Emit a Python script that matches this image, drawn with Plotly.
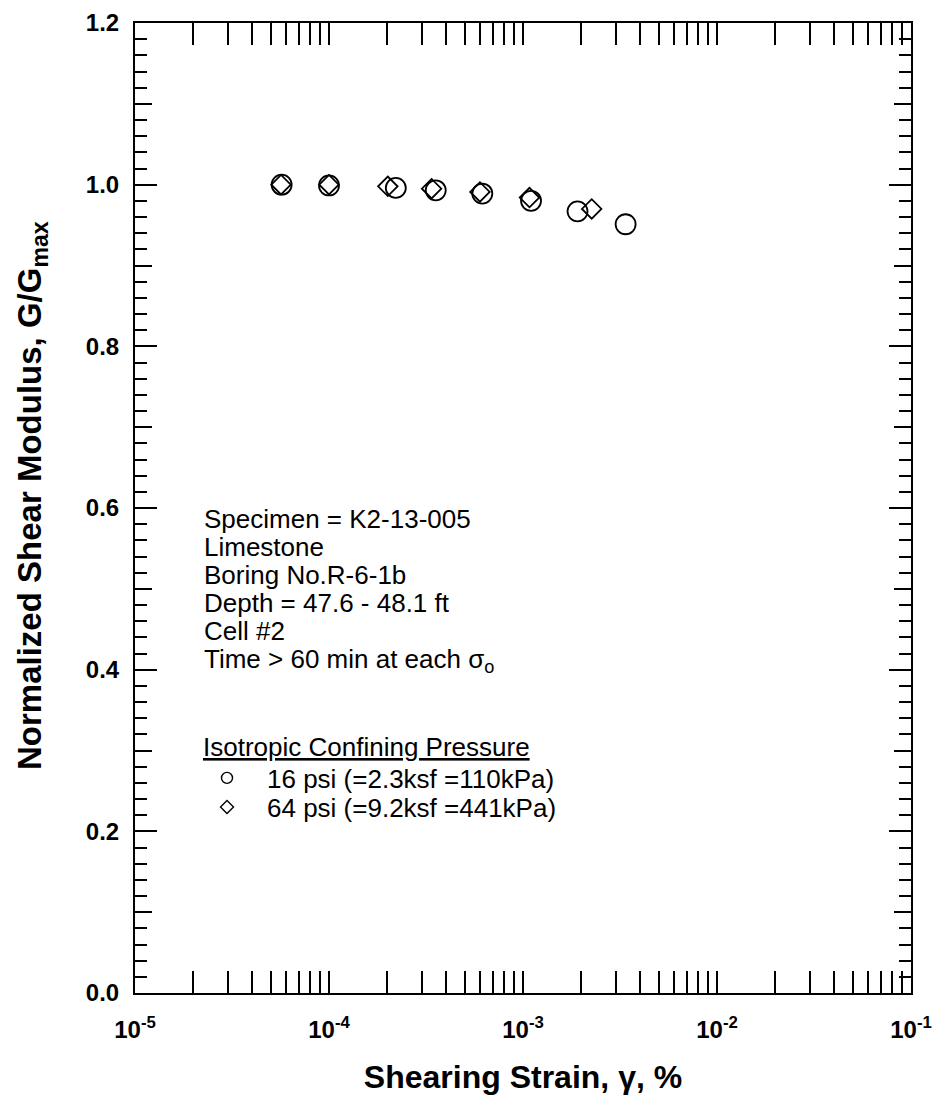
import plotly.graph_objects as go

# Shear strain (%) and normalized shear modulus for each confining pressure
strain_16psi = [5.70e-5, 1.00e-4, 2.21e-4, 3.55e-4, 6.17e-4, 1.10e-3, 1.91e-3, 3.38e-3]
ggmax_16psi = [1.000, 0.999, 0.996, 0.993, 0.989, 0.980, 0.967, 0.951]

strain_64psi = [5.66e-5, 1.00e-4, 2.01e-4, 3.38e-4, 6.00e-4, 1.08e-3, 2.26e-3]
ggmax_64psi = [1.000, 1.000, 0.998, 0.995, 0.991, 0.984, 0.970]

label_16psi = "16 psi (=2.3ksf =110kPa)"
label_64psi = "64 psi (=9.2ksf =441kPa)"
legend_title = "Isotropic Confining Pressure"

x_title = "Shearing Strain, γ, %"
y_title = "Normalized Shear Modulus, G/G<sub>max</sub>"

x_tick_vals = [1e-5, 1e-4, 1e-3, 1e-2, 1e-1]
x_tick_text = ["10<sup>-5</sup>", "10<sup>-4</sup>", "10<sup>-3</sup>", "10<sup>-2</sup>", "10<sup>-1</sup>"]
y_tick_vals = [0.0, 0.2, 0.4, 0.6, 0.8, 1.0, 1.2]
y_tick_text = ["0.0", "0.2", "0.4", "0.6", "0.8", "1.0", "1.2"]
y_mid_ticks = [0.1, 0.3, 0.5, 0.7, 0.9, 1.1]

info_lines = [
    "Specimen = K2-13-005",
    "Limestone",
    "Boring No.R-6-1b",
    "Depth = 47.6 - 48.1 ft",
    "Cell #2",
    "Time > 60 min at each σ<sub>o</sub>",
]

FONT = "Liberation Sans, Arial, sans-serif"
BLACK = "#000000"
TEXT_SIZE = 26

# plot frame in pixels, used to place the notes in paper units
PLOT_TOP, PLOT_BOTTOM, PLOT_LEFT, PLOT_RIGHT = 23, 993, 135, 911


def paper_y(py):
    return (PLOT_BOTTOM - py) / (PLOT_BOTTOM - PLOT_TOP)


def paper_x(px):
    return (px - PLOT_LEFT) / (PLOT_RIGHT - PLOT_LEFT)


fig = go.Figure()

fig.add_trace(go.Scatter(
    x=strain_16psi, y=ggmax_16psi, mode="markers", showlegend=False,
    marker=dict(symbol="circle-open", size=20, color=BLACK, line=dict(width=1.8, color=BLACK)),
))
fig.add_trace(go.Scatter(
    x=strain_64psi, y=ggmax_64psi, mode="markers", showlegend=False,
    marker=dict(symbol="diamond-open", size=15, color=BLACK, line=dict(width=1.8, color=BLACK)),
))

# legend entries with smaller symbols, one legend per row
fig.add_trace(go.Scatter(
    x=[None], y=[None], mode="markers", name=label_16psi, legend="legend",
    marker=dict(symbol="circle-open", size=11, color=BLACK, line=dict(width=1.4, color=BLACK)),
))
fig.add_trace(go.Scatter(
    x=[None], y=[None], mode="markers", name=label_64psi, legend="legend2",
    marker=dict(symbol="diamond-open", size=10, color=BLACK, line=dict(width=1.4, color=BLACK)),
))

# extra axis carrying the intermediate 0.1 ticks
fig.add_trace(go.Scatter(x=[None], y=[None], yaxis="y2", showlegend=False, hoverinfo="skip"))

line_centers = [519, 547, 575, 603, 631, 660]
for text, py in zip(info_lines, line_centers):
    fig.add_annotation(
        text=text, xref="paper", yref="paper", x=paper_x(202), y=paper_y(py),
        xanchor="left", yanchor="middle", align="left", showarrow=False,
        font=dict(family=FONT, size=TEXT_SIZE, color=BLACK),
    )

fig.add_annotation(
    text=f"<u>{legend_title}</u>", xref="paper", yref="paper", x=paper_x(201), y=paper_y(747),
    xanchor="left", yanchor="middle", align="left", showarrow=False,
    font=dict(family=FONT, size=TEXT_SIZE, color=BLACK),
)

# vertical axis title
fig.add_annotation(
    text=f"<b>{y_title}</b>", xref="paper", yref="paper", x=paper_x(32), y=paper_y(496),
    xanchor="center", yanchor="middle", textangle=-90, showarrow=False,
    font=dict(family=FONT, size=33, color=BLACK),
)

legend_common = dict(
    xanchor="left", yanchor="middle",
    bgcolor="rgba(0,0,0,0)", borderwidth=0,
    font=dict(family=FONT, size=TEXT_SIZE, color=BLACK),
    itemwidth=70,
)

fig.update_layout(
    width=933, height=1101,
    margin=dict(l=PLOT_LEFT, r=933 - PLOT_RIGHT, t=PLOT_TOP, b=1101 - PLOT_BOTTOM),
    paper_bgcolor="white", plot_bgcolor="white",
    font=dict(family=FONT, color=BLACK),
    showlegend=True,
    legend=dict(x=paper_x(187), y=paper_y(778), **legend_common),
    legend2=dict(x=paper_x(187), y=paper_y(807), **legend_common),
    xaxis=dict(
        type="log", range=[-5, -1], automargin=False,
        tickmode="array", tickvals=x_tick_vals, ticktext=x_tick_text,
        ticks="inside", ticklen=22, tickwidth=2, tickcolor=BLACK,
        showline=True, linewidth=2, linecolor=BLACK, mirror="allticks",
        showgrid=False, zeroline=False,
        tickfont=dict(family=FONT, size=24, color=BLACK, weight="bold"),
        ticklabelstandoff=14,
        minor=dict(dtick="D1", ticks="inside", ticklen=12, tickwidth=2, tickcolor=BLACK, showgrid=False),
        title=dict(text=f"<b>{x_title}</b>", font=dict(family=FONT, size=32, color=BLACK), standoff=24),
    ),
    yaxis=dict(
        range=[0, 1.2], automargin=False,
        tickmode="array", tickvals=y_tick_vals, ticktext=y_tick_text,
        ticks="inside", ticklen=22, tickwidth=2, tickcolor=BLACK,
        showline=True, linewidth=2, linecolor=BLACK, mirror="allticks",
        showgrid=False, zeroline=False,
        tickfont=dict(family=FONT, size=24, color=BLACK, weight="bold"),
        ticklabelstandoff=9,
        minor=dict(dtick=0.02, ticks="inside", ticklen=12, tickwidth=2, tickcolor=BLACK, showgrid=False),
    ),
    yaxis2=dict(
        overlaying="y", side="left", anchor="x", range=[0, 1.2], automargin=False,
        tickmode="array", tickvals=y_mid_ticks, showticklabels=False,
        ticks="inside", ticklen=17, tickwidth=2, tickcolor=BLACK,
        showline=False, mirror="allticks", showgrid=False, zeroline=False,
    ),
)

fig.write_html("out.html")
